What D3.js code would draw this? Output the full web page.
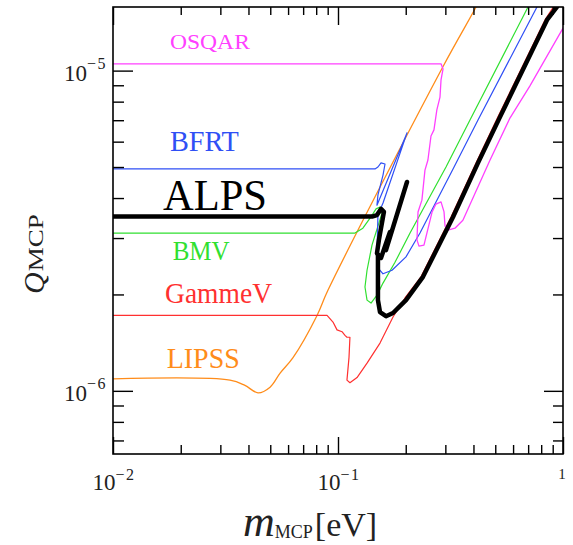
<!DOCTYPE html>
<html><head><meta charset="utf-8">
<script src="https://cdn.jsdelivr.net/npm/d3@7"></script>
<style>body{margin:0;background:#fff}svg{display:block}text{font-family:"Liberation Serif","Times New Roman",serif}</style>
</head><body><svg id="c" width="573" height="545"></svg>
<script>
// ---- tick values ----
const xMajor=[0.01,0.1,1];
const xMinor=[0.02,0.03,0.04,0.05,0.06,0.07,0.08,0.09,0.2,0.3,0.4,0.5,0.6,0.7,0.8,0.9];
const yMajor=[1e-6,1e-5];
const yMinor=[7e-7,8e-7,9e-7,2e-6,3e-6,4e-6,5e-6,6e-6,7e-6,8e-6,9e-6];
const xTickBase=["10","10","1"];
const xTickExp=["−2","−1",""];
const yTickBase=["10","10"];
const yTickExp=["−6","−5"];

// ---- series (mass in eV, charge in units of 1e-6) ----
const osqarM=[0.01,0.287,0.293,0.287,0.284,0.275,0.267,0.259,0.251,0.2435,0.236,0.2268,0.2244,0.229,0.241,0.262,0.2725,0.287,0.296,0.299,0.311,0.331,0.359,0.474,0.581,0.713,0.99,1.074];
const osqarQ=[10.5,10.5,10.12,9.35,8.27,7.54,6.53,6.25,5.26,4.89,3.94,3.62,2.96,2.83,2.85,3.62,3.83,3.89,3.62,3.27,3.18,3.22,3.41,5.26,7.11,8.96,13.4,14.8];
const bfrtM=[0.01,0.146,0.1505,0.1553,0.1618,0.1585,0.1505,0.149,0.2026,0.1585,0.1505,0.149,0.1505,0.1585,0.1738,0.2005,0.2314,0.328,0.419,0.766,0.832];
const bfrtQ=[4.93,4.93,5.0,5.15,5.11,4.72,4.09,3.80,6.39,3.86,3.54,2.69,2.42,2.32,2.38,2.62,3.11,5.0,7.01,15.8,17.6];
const bmvM=[0.01,0.119,0.129,0.1388,0.1476,0.1537,0.1585,0.1416,0.1346,0.1318,0.1346,0.1402,0.149,0.1585,0.1792,0.209,0.302,0.386,0.699,0.759];
const bmvQ=[3.11,3.11,3.22,3.46,3.70,3.75,3.67,2.85,2.38,2.11,1.92,1.88,1.99,2.17,2.52,3.11,5.0,7.01,15.8,17.6];
const alpsAM=[0.01,0.1416,0.149,0.1553,0.160,0.152,0.149,0.1553,0.170,0.1634,0.2026];
const alpsAQ=[3.50,3.50,3.54,3.70,3.62,2.96,2.69,2.60,3.13,2.75,4.49];
const alpsBM=[0.1505,0.1505,0.1537,0.1634,0.1756,0.2005,0.2386,0.3245,0.419,0.525,0.849,0.94,1.02];
const alpsBQ=[2.66,1.92,1.76,1.71,1.75,1.92,2.27,3.49,5.15,7.17,14.4,15.8,17.6];
const gammeM=[0.01,0.0894,0.095,0.099,0.1042,0.1074,0.1096,0.113,0.1119,0.1096,0.113,0.1215,0.1346,0.1537,0.1756,0.1985,0.2338,0.318,0.4106,0.514,0.832,1.0];
const gammeQ=[1.72,1.72,1.64,1.55,1.53,1.49,1.47,1.47,1.27,1.08,1.06,1.10,1.22,1.41,1.70,1.95,2.27,3.49,5.15,7.17,14.4,17.6];
const lipssM=[0.01,0.0331,0.0386,0.0441,0.0499,0.0553,0.0631,0.0807,0.0902,0.293,0.4106,0.432];
const lipssQ=[1.09,1.08,1.04,0.986,1.027,1.136,1.27,1.72,2.06,10.3,15.8,17.0];

const series=[
 {name:"LIPSS",m:lipssM,q:lipssQ,color:"#ff8c1a",w:1.3,curve:d3.curveCatmullRom},
 {name:"GammeV",m:gammeM,q:gammeQ,color:"#ff3030",w:1.2,curve:d3.curveLinear},
 {name:"BMV",m:bmvM,q:bmvQ,color:"#30e030",w:1.2,curve:d3.curveLinear},
 {name:"BFRT",m:bfrtM,q:bfrtQ,color:"#2f4ff5",w:1.2,curve:d3.curveLinear},
 {name:"OSQAR",m:osqarM,q:osqarQ,color:"#ff40ff",w:1.3,curve:d3.curveLinear},
 {name:"ALPS",m:alpsBM,q:alpsBQ,color:"#000",w:4.5,curve:d3.curveLinear},
 {name:"ALPS",m:alpsAM,q:alpsAQ,color:"#000",w:4.5,curve:d3.curveLinear}
];
const labels=[
 {t:"OSQAR",m:0.0179,q:11.7,color:"#ff40ff",fs:22,len:80},
 {t:"BFRT",m:0.0179,q:5.61,color:"#2f4ff5",fs:30,len:69},
 {t:"ALPS",m:0.01668,q:3.67,color:"#000",fs:44,len:104},
 {t:"BMV",m:0.01842,q:2.56,color:"#30e030",fs:28,len:57},
 {t:"GammeV",m:0.01703,q:1.88,color:"#ff3030",fs:29,len:107},
 {t:"LIPSS",m:0.01733,q:1.18,color:"#ff8c1a",fs:29,len:73}
];

const svg=d3.select("#c");
const X0=113,X1=563,Y0=7,Y1=454;
const x=d3.scaleLog().domain([0.01,1]).range([X0,X1]);
const y=d3.scaleLog().domain([6.35e-7,1.58e-5]).range([Y1,Y0]);

svg.append("clipPath").attr("id","clip").append("rect")
  .attr("x",X0).attr("y",Y0).attr("width",X1-X0).attr("height",Y1-Y0);

const plot=svg.append("g").attr("clip-path","url(#clip)");
series.forEach(s=>{
  const pts=s.m.map((m,i)=>[m,s.q[i]*1e-6]);
  const line=d3.line().x(d=>x(d[0])).y(d=>y(d[1])).curve(s.curve);
  plot.append("path").attr("d",line(pts)).attr("fill","none")
    .attr("stroke",s.color).attr("stroke-width",s.w)
    .attr("stroke-linejoin","round").attr("stroke-linecap","round");
});

// labels
labels.forEach(l=>{
  svg.append("text").attr("x",x(l.m)).attr("y",y(l.q*1e-6))
    .attr("fill",l.color).attr("font-size",l.fs)
    .attr("textLength",l.len).attr("lengthAdjust","spacingAndGlyphs").text(l.t);
});

// ticks
function tk(g){g.select(".domain").remove();g.selectAll("line").attr("stroke","#000").attr("stroke-width",1.4);}
svg.append("g").attr("transform",`translate(${X0},0)`).call(d3.axisRight(y).tickValues(yMinor).tickSize(11).tickFormat("")).call(tk);
svg.append("g").attr("transform",`translate(${X0},0)`).call(d3.axisRight(y).tickValues(yMajor).tickSize(20).tickFormat("")).call(tk);
svg.append("g").attr("transform",`translate(${X1},0)`).call(d3.axisLeft(y).tickValues(yMinor).tickSize(10).tickFormat("")).call(tk);
svg.append("g").attr("transform",`translate(${X1},0)`).call(d3.axisLeft(y).tickValues(yMajor).tickSize(19).tickFormat("")).call(tk);
svg.append("g").attr("transform",`translate(0,${Y1})`).call(d3.axisTop(x).tickValues(xMinor).tickSize(9).tickFormat("")).call(tk);
svg.append("g").attr("transform",`translate(0,${Y1})`).call(d3.axisTop(x).tickValues(xMajor).tickSize(17).tickFormat("")).call(tk);
svg.append("g").attr("transform",`translate(0,${Y0})`).call(d3.axisBottom(x).tickValues(xMinor).tickSize(8).tickFormat("")).call(tk);
svg.append("g").attr("transform",`translate(0,${Y0})`).call(d3.axisBottom(x).tickValues(xMajor).tickSize(18).tickFormat("")).call(tk);

svg.append("rect").attr("x",X0).attr("y",Y0).attr("width",X1-X0).attr("height",Y1-Y0)
  .attr("fill","none").attr("stroke","#000").attr("stroke-width",1.6);

// tick labels
xMajor.forEach((v,i)=>{
  const t=svg.append("text").attr("text-anchor","middle").attr("fill","#222");
  if(xTickExp[i]){
    t.attr("x",x(v)+1).attr("y",490).attr("font-size",23);
    t.append("tspan").text(xTickBase[i]);
    t.append("tspan").attr("font-size",16).attr("dy",-10).attr("letter-spacing",1.5).text(xTickExp[i]);
  } else {
    t.attr("x",x(v)-1).attr("y",479).attr("font-size",15).text(xTickBase[i]);
  }
});
yMajor.forEach((v,i)=>{
  const t=svg.append("text").attr("text-anchor","end").attr("fill","#222")
    .attr("x",107).attr("y",y(v)+10).attr("font-size",23);
  t.append("tspan").text(yTickBase[i]);
  t.append("tspan").attr("font-size",16).attr("dy",-12).attr("letter-spacing",1.5).text(yTickExp[i]);
});

// axis titles
const yt=svg.append("text").attr("transform","translate(44,294) rotate(-90)").attr("fill","#222");
yt.append("tspan").attr("font-size",30).attr("font-style","italic").text("Q");
yt.append("tspan").attr("font-size",21).attr("dy",-1).attr("dx",1)
  .attr("textLength",57).attr("lengthAdjust","spacingAndGlyphs").text("MCP");
const xt=svg.append("text").attr("x",243).attr("y",536).attr("fill","#222");
xt.append("tspan").attr("font-size",44).attr("font-style","italic").text("m");
xt.append("tspan").attr("font-size",18).attr("dy",2).text("MCP");
xt.append("tspan").attr("font-size",34).attr("dy",-2).attr("dx",2).text("[eV]");
</script></body></html>
